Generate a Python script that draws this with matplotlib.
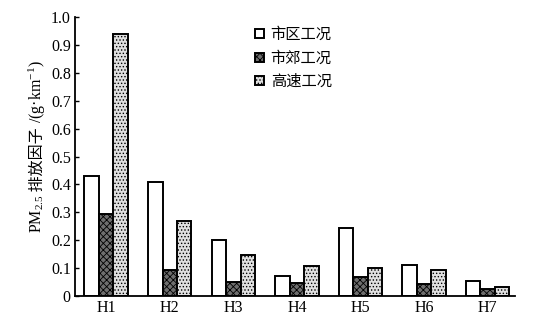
import numpy as np
import matplotlib
matplotlib.use('Agg')
import matplotlib.pyplot as plt

plt.rcParams['font.family'] = ['Liberation Serif', 'Noto Sans CJK SC']
plt.rcParams['mathtext.fontset'] = 'custom'
plt.rcParams['mathtext.rm'] = 'Liberation Serif'
plt.rcParams['mathtext.it'] = 'Liberation Serif:italic'
plt.rcParams['hatch.linewidth'] = 0.6

# data
vehicles = ['H1', 'H2', 'H3', 'H4', 'H5', 'H6', 'H7']
urban = [0.43, 0.41, 0.20, 0.072, 0.243, 0.112, 0.053]
suburb = [0.295, 0.095, 0.05, 0.047, 0.068, 0.042, 0.024]
highway = [0.94, 0.27, 0.148, 0.108, 0.10, 0.092, 0.031]
labels = ['市区工况', '市郊工况', '高速工况']
yticks = [0, 0.1, 0.2, 0.3, 0.4, 0.5, 0.6, 0.7, 0.8, 0.9, 1.0]

fig = plt.figure(figsize=(5.37, 3.22), dpi=100)
ax = fig.add_axes([0.1397, 0.0807, 0.8193, 0.8665])

x = np.arange(len(vehicles))
w = 0.228
ax.bar(x - w, urban, w, facecolor='white', edgecolor='black', linewidth=1.4, label=labels[0])
ax.bar(x, suburb, w, facecolor='#6e6e6e', edgecolor='black', linewidth=1.4,
       hatch='xxxxx', label=labels[1])
ax.bar(x + w, highway, w, facecolor='#e0e0e0', edgecolor='black', linewidth=1.4,
       hatch='.....', label=labels[2])

ax.set_xlim(-0.49, 6.43)
ax.set_ylim(0, 1.0)
ax.set_xticks(x)
ax.set_xticklabels(vehicles, fontsize=11.5)
ax.set_yticks(yticks)
ax.set_yticklabels(['0'] + ['%.1f' % v for v in yticks[1:]], fontsize=11.5)
ax.tick_params(axis='x', length=0, pad=3)
ax.tick_params(axis='y', direction='in', length=3, width=1, pad=3)
for s in ['top', 'right']:
    ax.spines[s].set_visible(False)
for s in ['left', 'bottom']:
    ax.spines[s].set_linewidth(1.3)

leg = ax.legend(loc='upper left', bbox_to_anchor=(0.396, 0.985), frameon=False,
                fontsize=11, handlelength=0.55, handleheight=0.55, handletextpad=0.45,
                labelspacing=0.6, borderaxespad=0)

# y label built from pieces so that the CJK part gets its own font
fig.canvas.draw()
r = fig.canvas.get_renderer()
parts = [('PM$_{2.5}$', 'Liberation Serif'),
         (' 排放因子 ', 'Noto Sans CJK SC'),
         ('/(g·km$^{-1}$)', 'Liberation Serif')]
xl = 37 / 537
texts = []
for s, fam in parts:
    t = fig.text(xl, 0, s, rotation=90, fontsize=11.5, family=fam,
                 ha='center', va='bottom')
    texts.append(t)
fig.canvas.draw()
hs = [t.get_window_extent(r).height for t in texts]
total = sum(hs)
ypix = (322 - 147) - total / 2
for t, h in zip(texts, hs):
    t.set_position((xl, ypix / 322))
    ypix += h

fig.savefig('out.png', dpi=100)
